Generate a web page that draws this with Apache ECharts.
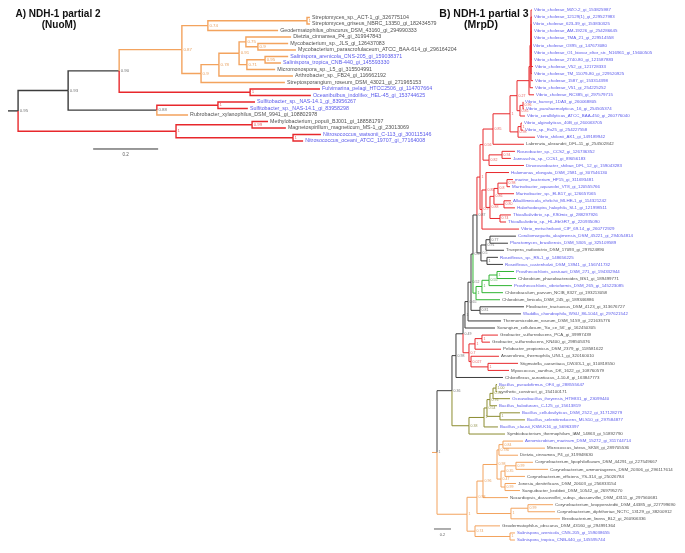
<!DOCTYPE html>
<html><head><meta charset="utf-8">
<script src="https://cdn.jsdelivr.net/npm/echarts@6.0.0/dist/echarts.min.js"></script>
<style>html,body{margin:0;padding:0;background:#fff}#chart{width:685px;height:553px}</style>
</head><body><div id="chart"></div>
<script>
// ================= Tree A: NDH-1 partial 2 (NuoM) =================
const A_leafNames = [
 'Streptomyces_sp._ACT-1_gi_326775104','Streptomyces_griseus_NBRC_13350_gi_182434579',
 'Geodermatophilus_obscurus_DSM_43160_gi_294990333','Dietzia_cinnamea_P4_gi_319947843',
 'Mycobacterium_sp._JLS_gi_126437083','Mycobacterium_parascrofulaceum_ATCC_BAA-614_gi_296164204',
 'Salinispora_arenicola_CNS-205_gi_159038371','Salinispora_tropica_CNB-440_gi_145593330',
 'Micromonospora_sp._L5_gi_315504991','Arthrobacter_sp._FB24_gi_116662192',
 'Streptosporangium_roseum_DSM_43021_gi_271965153','Fulvimarina_pelagi_HTCC2506_gi_114707664',
 'Oceanibulbus_indolifex_HEL-45_gi_153744625','Sulfitobacter_sp._NAS-14.1_gi_83956267',
 'Sulfitobacter_sp._NAS-14.1_gi_83958298','Rubrobacter_xylanophilus_DSM_9941_gi_108802978',
 'Methylobacterium_populi_BJ001_gi_188581797','Magnetospirillum_magneticum_MS-1_gi_23013069',
 'Nitrosococcus_watsonii_C-113_gi_300115146','Nitrosococcus_oceani_ATCC_19707_gi_77164008'];
const A_leafDepth = [0.929,0.929,0.831,0.871,0.862,0.886,0.862,0.84,0.822,0.877,0.852,0.96,0.932,0.76,0.738,0.554,0.8,0.855,0.963,0.908];
const A_leafBlue  = [0,0,0,0,0,0,1,1,0,0,0,1,1,1,1,0,0,0,1,1];
const A_nodeNames = ['aRoot','a68','a119','a182','a208','aStr','a201','a219','a239','a246','a258','a247','a265','aFul','a157','aSul','a176','aMet','aNit'];
const A_nodeKids  = [['a68','a176'],['a119','a157'],['a182','aFul'],['a208','a201'],['aStr',2],[0,1],['a219',10],['a239',9],['a246','a247'],[3,'a258'],[4,5],['a265',8],[6,7],[11,12],['aSul',15],[13,14],['aMet','aNit'],[16,17],[18,19]];
const A_nodeDepth = [0.031,0.185,0.342,0.535,0.615,0.92,0.594,0.649,0.711,0.732,0.769,0.735,0.791,0.745,0.458,0.646,0.517,0.751,0.877];
const A_nodeSupport = ['0.95','0.93','0.90','0.87','0.74','1','0.9','0.78','0.91','0.75','0.9','0.71','0.95','1','0.88','1','1','0.99','1'];
const A_groupRefs  = ['a182','aFul','aSul',15,'a176'];
const A_groupKinds = ['o','r','r','o','r'];
const A_scaleBar = 0.2;

// ================= Tree B: NDH-1 partial 3 (MrpD) =================
const B_leafNames = [
 'Vibrio_cholerae_MZO-2_gi_153825987','Vibrio_cholerae_12129(1)_gi_229527983','Vibrio_cholerae_623-39_gi_153830325',
 'Vibrio_cholerae_AM-19226_gi_254286645','Vibrio_cholerae_TMA_21_gi_229514558','Vibrio_cholerae_O395_gi_147673080',
 'Vibrio_cholerae_O1_biovar_eltor_str._N16961_gi_15600505','Vibrio_cholerae_2740-80_gi_121587883','Vibrio_cholerae_V52_gi_121728333',
 'Vibrio_cholerae_TM_11079-80_gi_229520925','Vibrio_cholerae_1587_gi_153314398','Vibrio_cholerae_V51_gi_254225252',
 'Vibrio_cholerae_RC385_gi_297579715','Vibrio_harveyi_1DA3_gi_260068805','Vibrio_parahaemolyticus_16_gi_254505374',
 'Vibrio_coralliilyticus_ATCC_BAA-450_gi_260776040','Vibrio_alginolyticus_40B_gi_260063705','Vibrio_sp._Ex25_gi_254227558',
 'Vibrio_shilonii_AK1_gi_149189942','Labrenzia_alexandrii_DFL-11_gi_254502842','Roseobacter_sp._CCS2_gi_126736352',
 'Jannaschia_sp._CCS1_gi_89056183','Dinoroseobacter_shibae_DFL_12_gi_159043283','Halomonas_elongata_DSM_2581_gi_307546130',
 'marine_bacterium_HP15_gi_311693481','Marinobacter_aquaeolei_VT8_gi_120555766','Marinobacter_sp._ELB17_gi_126657065',
 'Alkalilimnicola_ehrlichii_MLHE-1_gi_114321242','Halorhodospira_halophila_SL1_gi_121998511','Thioalkalivibrio_sp._K90mix_gi_288297926',
 'Thioalkalivibrio_sp._HL-EbGR7_gi_220935090','Vibrio_metschnikovii_CIP_69.14_gi_260772929','Coraliomargarita_akajimensis_DSM_45221_gi_294054814',
 'Planctomyces_brasiliensis_DSM_5305_gi_325109589','Truepera_radiovictrix_DSM_17093_gi_297624890','Roseiflexus_sp._RS-1_gi_148656225',
 'Roseiflexus_castenholzii_DSM_13941_gi_156741732','Prosthecochloris_aestuarii_DSM_271_gi_194332944','Chlorobium_phaeobacteroides_BS1_gi_189499771',
 'Prosthecochloris_vibrioformis_DSM_265_gi_145223085','Chlorobaculum_parvum_NCIB_8327_gi_193213058','Chlorobium_limicola_DSM_245_gi_189346886',
 'Flexibacter_tractuosus_DSM_4123_gi_313676727','Waddlia_chondrophila_WSU_86-1044_gi_297621542','Thermomicrobium_roseum_DSM_5159_gi_221635776',
 "Sorangium_cellulosum_'So_ce_56'_gi_162450305",'Geobacter_sulfurreducens_PCA_gi_39997439','Geobacter_sulfurreducens_KN400_gi_298505376',
 'Pelobacter_propionicus_DSM_2379_gi_118581622','Anaerolinea_thermophila_UNI-1_gi_320160010','Stigmatella_aurantiaca_DW4/3-1_gi_310818550',
 'Myxococcus_xanthus_DK_1622_gi_108760579','Chloroflexus_aurantiacus_J-10-fl_gi_163847773','Bacillus_pseudofirmus_OF4_gi_288555647',
 'synthetic_construct_gi_154100171','Oceanobacillus_iheyensis_HTE831_gi_23099440','Bacillus_halodurans_C-125_gi_15613819',
 'Bacillus_cellulosilyticus_DSM_2522_gi_317128279','Bacillus_selenitireducens_MLS10_gi_297584877','Bacillus_clausii_KSM-K16_gi_56963397',
 'Symbiobacterium_thermophilum_IAM_14863_gi_51892790','Aeromicrobium_marinum_DSM_15272_gi_311744714','Micrococcus_luteus_SK58_gi_289705536',
 'Dietzia_cinnamea_P4_gi_319948630','Corynebacterium_lipophiloflavum_DSM_44291_gi_227549667','Corynebacterium_ammoniagenes_DSM_20306_gi_296117614',
 'Corynebacterium_efficiens_YS-314_gi_25026784','Jonesia_denitrificans_DSM_20603_gi_256833154','Sanguibacter_keddieii_DSM_10542_gi_269795270',
 'Nocardiopsis_dassonvillei_subsp._dassonvillei_DSM_43111_gi_297560681','Corynebacterium_kroppenstedtii_DSM_44385_gi_227799690',
 'Corynebacterium_diphtheriae_NCTC_13129_gi_38200912','Brevibacterium_linens_BL2_gi_260906336','Geodermatophilus_obscurus_DSM_43160_gi_294991364',
 'Salinispora_arenicola_CNS-205_gi_159038655','Salinispora_tropica_CNB-440_gi_145595744'];
const B_leafDepth = [1.176,1.176,1.165,1.176,1.176,1.165,1.176,1.176,1.188,1.176,1.188,1.188,1.2,1.071,1.082,1.094,1.059,1.071,1.212,1.082,
 0.976,0.929,1.082,0.906,0.953,0.918,0.965,0.929,0.976,0.929,0.871,1.024,0.988,0.894,0.847,0.776,0.835,0.965,0.988,0.941,
 0.835,0.8,1.082,1.047,0.812,0.741,0.776,0.682,0.812,0.788,1.012,0.906,0.835,0.765,0.765,0.918,0.765,1.035,1.094,0.776,
 0.859,1.071,1.329,1.012,1.188,1.365,1.094,0.988,1.035,0.894,1.424,1.447,1.506,0.8,0.976,0.976];
const B_leafBlue = [1,1,1,1,1,1,1,1,1,1,1,1,1,1,1,1,1,1,1,0,1,1,1,1,1,1,1,1,1,1,1,1,1,1,0,1,1,1,0,1,
 0,0,0,1,0,0,0,0,0,0,0,0,0,1,0,1,1,1,1,1,0,1,0,0,0,0,0,0,0,0,0,0,0,0,1,1];
const B_nodeNames = ['Root','N1','N2','N3','N4','N5','N6','P','K','R0','RA','Lb','V2','V1','C0','C1','C2','VH2','VH','VA2','VA',
 'RS2','RS1','RB','M5','M4','M3','M2','M1','AH','TH','K2','CPT','CP','Ro','Gr','Pc','Pb','Pa','F1','G5','G2','G1','G3','G4',
 'BR','P6','P5','P3','P2','P1','P4','O1','Oa','Oc','Qg','Qb','Qa','Qf','Qd','Qc','Qe','Od','K1','Ob','Sp'];
const B_nodeKids = [['N1','O1'],['N2','BR'],['N3',52],['N4','G5'],['N5',45],['N6',44],['P','F1'],['K','Gr'],['R0','K2'],['RA','RB'],
 ['Lb','RS2'],['V2',19],['V1','VA2'],['C0','VH2'],['C1',12],['C2',11],[0,1,2,3,4,5,6,7,8,9,10],['VH',15],[13,14],['VA',18],[16,17],
 ['RS1',22],[20,21],['M5',31],[23,'M4'],['M3','TH'],['M2','AH'],['M1',26],[24,25],[27,28],[29,30],['CPT','Ro'],['CP',34],[32,33],[35,36],
 ['Pc',41],['Pb',40],['Pa',39],[37,38],[42,43],['G2','G3'],['G1',48],[46,47],[49,'G4'],[50,51],
 ['P6',60],['P5',59],['P3','P4'],['P2',56],['P1',55],[53,54],[57,58],['Oa','Ob'],['Oc','Od'],['Qg',69],['Qb','Qf'],['Qa',63],[61,62],
 ['Qd','Qe'],['Qc',66],[64,65],[67,68],['K1',72],[70,71],[73,'Sp'],[74,75]];
const B_nodeDepth = [0.059,0.235,0.282,0.365,0.388,0.424,0.459,0.482,0.529,0.565,0.6,0.718,0.918,1.0,1.141,1.153,1.165,1.035,1.071,1.012,1.047,
 0.671,0.824,0.588,0.635,0.682,0.729,0.776,0.882,0.847,0.8,0.576,0.635,0.682,0.647,0.518,0.588,0.671,0.765,0.565,0.435,0.506,0.588,0.459,0.659,
 0.435,0.612,0.647,0.682,0.718,0.753,0.8,0.412,0.529,0.6,0.765,0.788,0.835,0.812,0.859,0.988,0.859,0.929,1.129,0.506,0.918];
const B_nodeSupport = ['1','0.36','0.98','0.49','1','0.65','0.52','0.5','0.87','1','0.56','0.85','1','0.27','','','','0.85','0.96','0.98','1',
 '0.82','0.94','0.9','0.85','0.88','0.86','0.8','0.98','0.80','0.74','0.5','0.91','0.77','1','1','1','0.55','1','0.81','0.7','1','1','0.027','1',
 '0.38','1','0.54','0.76','0.95','1.00','1','1','0.98','0.96','0.98','0.780','0.84','0.47','0.35','0.99','0.99','1','0.99','0.74','1'];
const B_groupRefs  = ['O1','BR','G5','Gr','R0'];
const B_groupKinds = ['o','y','r','g','r'];
const B_scaleBar = 0.2;

// ================= styles =================
const lineColor = {k:'#3c3c3c', o:'#f3a35e', r:'#e8282c', g:'#2fb432', y:'#8c8c30'};
const supColor  = {k:'#555555', o:'#e48c3c', r:'#e33a3a', g:'#2a9c2a', y:'#7d7d28'};
const blueText = '#2e2ee6', blackText = '#1c1c1c';
const FONT = 'Liberation Sans, Arial, sans-serif';

function buildTree(leafNames, leafDepth, leafBlue, nodeNames, nodeKids, nodeDepth, nodeSupport, groupRefs, groupKinds, baseKind, stubKind) {
  const nodes = {};
  const key = r => (typeof r === 'number' ? '#leaf' + r : '@' + r);
  leafNames.forEach((n, i) => { nodes[key(i)] = {x: leafDepth[i], y: i, leaf: true, name: n, blue: leafBlue[i]}; });
  nodeNames.forEach((n, i) => { nodes[key(n)] = {x: nodeDepth[i], kids: nodeKids[i].map(key), support: nodeSupport[i], leaf: false}; });
  const childSet = new Set();
  nodeKids.forEach(k => k.forEach(c => childSet.add(key(c))));
  const root = nodeNames.map(key).find(n => !childSet.has(n));
  function yOf(k, depth) {
    const nd = nodes[k]; if (nd.leaf || depth > 200) return nd.y;
    const ys = nd.kids.map(c => yOf(c, depth + 1)); nd.y = (ys[0] + ys[ys.length - 1]) / 2; return nd.y;
  }
  yOf(root, 0);
  const override = {}; groupRefs.forEach((r, i) => { override[key(r)] = groupKinds[i]; });
  const edges = [], sups = [], leaves = [];
  const r = nodes[root];
  edges.push({coords: [[0, r.y], [r.x, r.y]], kind: stubKind});
  (function walk(k, pk, kind, depth) {
    const kd = override[k] || kind; const nd = nodes[k];
    if (pk) { const p = nodes[pk]; edges.push({coords: [[p.x, p.y], [p.x, nd.y], [nd.x, nd.y]], kind: kd}); }
    if (nd.leaf) leaves.push({x: nd.x, y: nd.y, name: nd.name, blue: nd.blue});
    else if (depth < 200) { if (nd.support) sups.push({x: nd.x, y: nd.y, text: nd.support, kind: kd}); nd.kids.forEach(c => walk(c, k, kd, depth + 1)); }
  })(root, null, baseKind, 0);
  return {edges, sups, leaves};
}

const TA = buildTree(A_leafNames, A_leafDepth, A_leafBlue, A_nodeNames, A_nodeKids, A_nodeDepth, A_nodeSupport, A_groupRefs, A_groupKinds, 'k', 'k');
const TB = buildTree(B_leafNames, B_leafDepth, B_leafBlue, B_nodeNames, B_nodeKids, B_nodeDepth, B_nodeSupport, B_groupRefs, B_groupKinds, 'k', 'o');

function treeSeries(T, gi, lw, leafFont, supFont) {
  return [
    {type: 'lines', coordinateSystem: 'cartesian2d', xAxisIndex: gi, yAxisIndex: gi, polyline: true, silent: true, clip: false,
     lineStyle: {width: lw, opacity: 1},
     data: T.edges.map(e => ({coords: e.coords, lineStyle: {color: lineColor[e.kind], width: lw, opacity: 1}}))},
    {type: 'scatter', xAxisIndex: gi, yAxisIndex: gi, symbolSize: 0.1, itemStyle: {color: 'rgba(0,0,0,0)'}, silent: true, clip: false,
     label: {show: true, position: 'right', distance: 2, fontSize: leafFont, fontFamily: FONT, formatter: '{b}'},
     data: T.leaves.map(l => ({name: l.name, value: [l.x, l.y], label: {color: l.blue ? blueText : blackText}}))},
    {type: 'scatter', xAxisIndex: gi, yAxisIndex: gi, symbolSize: 0.1, itemStyle: {color: 'rgba(0,0,0,0)'}, silent: true, clip: false,
     label: {show: true, position: 'right', distance: 1.5, fontSize: supFont, fontFamily: FONT, formatter: '{b}'},
     data: T.sups.map(s => ({name: s.text, value: [s.x, s.y], label: {color: supColor[s.kind]}}))}
  ];
}

function scaleSeries(gi, x0, len, y, lw, fs, ly) {
  return [
    {type: 'lines', coordinateSystem: 'cartesian2d', xAxisIndex: gi, yAxisIndex: gi, polyline: true, silent: true, clip: false,
     data: [{coords: [[x0, y], [x0 + len, y]]}], lineStyle: {color: '#333', width: lw, opacity: 1}},
    {type: 'scatter', xAxisIndex: gi, yAxisIndex: gi, symbolSize: 0.1, itemStyle: {color: 'rgba(0,0,0,0)'}, silent: true, clip: false,
     label: {show: true, position: 'inside', fontSize: fs, fontFamily: FONT, color: '#333', formatter: '{b}'},
     data: [{name: String(len), value: [x0 + len / 2, ly]}]}
  ];
}

const chart = echarts.init(document.getElementById('chart'), null, {renderer: 'canvas'});
chart.setOption({
  animation: false,
  backgroundColor: '#ffffff',
  grid: [
    {left: 8, top: 4.5, width: 650, height: 156},
    {left: 432, top: 2.93, width: 246.5, height: 544.16}
  ],
  xAxis: [
    {gridIndex: 0, type: 'value', min: 0, max: 2, show: false},
    {gridIndex: 1, type: 'value', min: 0, max: 2.9, show: false}
  ],
  yAxis: [
    {gridIndex: 0, type: 'value', min: -2, max: 22, inverse: true, show: false},
    {gridIndex: 1, type: 'value', min: -1, max: 76, inverse: true, show: false}
  ],
  graphic: [
    {type: 'text', x: 58, y: 14, style: {text: 'A) NDH-1 partial 2', font: 'bold 10px ' + FONT, fill: '#111', textAlign: 'center', textVerticalAlign: 'middle'}},
    {type: 'text', x: 59, y: 25, style: {text: '(NuoM)', font: 'bold 10px ' + FONT, fill: '#111', textAlign: 'center', textVerticalAlign: 'middle'}},
    {type: 'text', x: 484, y: 14, style: {text: 'B) NDH-1 partial 3', font: 'bold 10.5px ' + FONT, fill: '#111', textAlign: 'center', textVerticalAlign: 'middle'}},
    {type: 'text', x: 481, y: 25, style: {text: '(MrpD)', font: 'bold 10.5px ' + FONT, fill: '#111', textAlign: 'center', textVerticalAlign: 'middle'}}
  ],
  series: [
    ...treeSeries(TA, 0, 1.4, 5.3, 4.4),
    ...treeSeries(TB, 1, 1.0, 4.4, 3.5),
    ...scaleSeries(0, 0.262, A_scaleBar, 20.23, 1, 4.6, 21.1),
    ...scaleSeries(1, 0.0235, B_scaleBar, 73.44, 0.8, 3.8, 74.3)
  ]
});
</script></body></html>
